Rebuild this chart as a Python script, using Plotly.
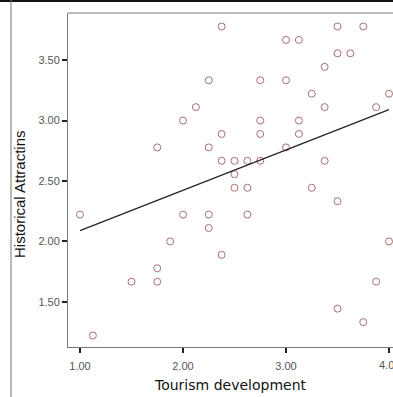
import plotly.graph_objects as go

# Data
tourism = [2.125, 2.0, 1.75, 2.375, 3.5, 3.75, 3.0, 3.125, 3.5, 3.625, 3.375,
           2.25, 2.75, 3.0, 3.25, 3.375, 3.875, 4.0, 2.75, 3.125, 2.375, 2.75,
           3.125, 2.25, 3.0, 2.375, 2.5, 2.625, 2.75, 3.375, 2.5, 2.5, 2.625,
           3.25, 3.5, 1.0, 2.0, 1.875, 1.75, 1.75, 1.5, 1.125, 2.25, 2.25,
           2.625, 2.375, 4.0, 3.875, 3.5, 3.75]
historical = [3.111, 3.0, 2.778, 3.778, 3.778, 3.778, 3.667, 3.667, 3.556, 3.556, 3.444,
              3.333, 3.333, 3.333, 3.222, 3.111, 3.111, 3.222, 3.0, 3.0, 2.889, 2.889,
              2.889, 2.778, 2.778, 2.667, 2.667, 2.667, 2.667, 2.667, 2.556, 2.444, 2.444,
              2.444, 2.333, 2.222, 2.222, 2.0, 1.778, 1.667, 1.667, 1.222, 2.222, 2.111,
              2.222, 1.889, 2.0, 1.667, 1.444, 1.333]
fit_x = [1.0, 4.0]
fit_y = [2.09, 3.09]

x_ticks = [1.0, 2.0, 3.0, 4.0]
x_tick_labels = ["1.00", "2.00", "3.00", "4.00"]
y_ticks = [1.5, 2.0, 2.5, 3.0, 3.5]
y_tick_labels = ["1.50", "2.00", "2.50", "3.00", "3.50"]

W, H = 393, 397

fig = go.Figure()
fig.add_trace(go.Scatter(
    x=tourism, y=historical, mode="markers",
    marker=dict(symbol="circle-open", size=7, color="#a86f6f", line=dict(width=1)),
    showlegend=False, hoverinfo="skip"))
fig.add_trace(go.Scatter(
    x=fit_x, y=fit_y, mode="lines",
    line=dict(color="#222222", width=1.2), showlegend=False, hoverinfo="skip"))

x0 = 1.0 - 12 / 103.0
x1 = x0 + (W - 68) / 103.0
y0 = 1.5 - 45 / 120.6
y1 = 3.5 + 47 / 120.6

tick_font = dict(family="Arial", size=11, color="#555")

fig.update_layout(
    width=W, height=H,
    margin=dict(l=0, r=0, t=0, b=0),
    paper_bgcolor="white", plot_bgcolor="white",
    xaxis=dict(domain=[68 / W, 1.0], range=[x0, x1],
               tickvals=x_ticks, ticktext=x_tick_labels,
               ticks="outside", ticklen=5, tickwidth=2, tickcolor="#222",
               ticklabelstandoff=4,
               showline=True, linecolor="#777", linewidth=1,
               showgrid=False, zeroline=False,
               tickfont=tick_font,
               title=dict(text="Tourism development", standoff=8,
                          font=dict(family="DejaVu Sans", size=14, color="#111"))),
    yaxis=dict(domain=[(H - 347) / H, (H - 13) / H], range=[y0, y1],
               tickvals=y_ticks, ticktext=y_tick_labels,
               ticks="outside", ticklen=5, tickwidth=2, tickcolor="#222",
               showline=True, linecolor="#777", linewidth=1,
               showgrid=False, zeroline=False,
               tickfont=tick_font,
               title=dict(text="", font=dict(size=1))),
    shapes=[
        dict(type="line", xref="paper", yref="paper", x0=68 / W, x1=1.0,
             y0=(H - 13) / H, y1=(H - 13) / H, line=dict(color="#777", width=1)),
        dict(type="line", xref="paper", yref="paper", x0=0, x1=1.0,
             y0=(H - 1) / H, y1=(H - 1) / H, line=dict(color="#111", width=2)),
        dict(type="line", xref="paper", yref="paper", x0=11 / W, x1=11 / W,
             y0=0, y1=1, line=dict(color="#777", width=1)),
    ],
    annotations=[
        dict(text="Historical Attractins", xref="paper", yref="paper",
             x=19 / W, y=(H - 194) / H, textangle=-90, showarrow=False,
             xanchor="center", yanchor="middle",
             font=dict(family="Arial", size=15, color="#111")),
        # last x tick label, clipped by the page edge as in the reference
        dict(text=x_tick_labels[-1], xref="x", yref="paper",
             x=x_ticks[-1], y=(H - 365) / H, showarrow=False,
             xanchor="center", yanchor="middle", font=tick_font),
    ],
)

fig.write_html("out.html")
